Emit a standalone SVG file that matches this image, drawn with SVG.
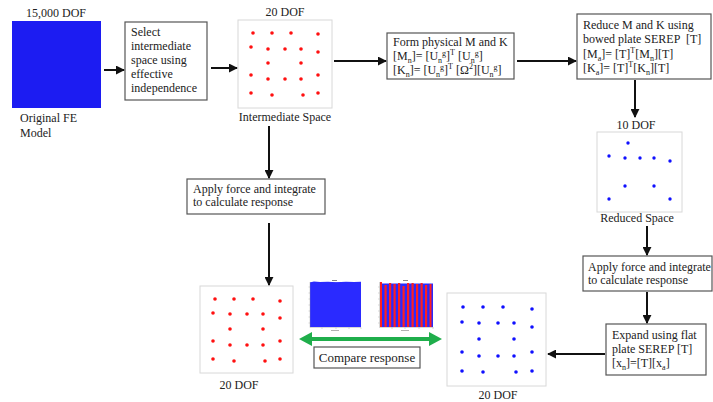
<svg xmlns="http://www.w3.org/2000/svg" width="713" height="402" viewBox="0 0 713 402">
<style>
text{font-family:"Liberation Serif","Times New Roman",serif;font-size:12px;fill:#222}
.box{fill:#fff;stroke:#555;stroke-width:1.2}
.panel{fill:#fff;stroke:#d8d8d8;stroke-width:1}
.conn{stroke:#111;stroke-width:2;fill:none;marker-end:url(#ah)}
.rd{fill:#ff1010}
.bd{fill:#1010ff}
.c{text-anchor:middle}
.s{font-size:8px}
.tick{stroke:#999;stroke-width:0.4;fill:none}
</style>
<defs>
<marker id="ah" viewBox="0 0 10 10" refX="9" refY="5" markerWidth="4.5" markerHeight="4.5" orient="auto">
<path d="M0,0 L10,5 L0,10 z" fill="#111"/>
</marker>
</defs>
<rect width="713" height="402" fill="#fff"/>

<g id="original-fe">
<text x="56" y="17" class="c">15,000 DOF</text>
<rect x="12" y="21" width="89" height="87" fill="#1c1cf2"/>
<text x="20" y="122">Original FE</text>
<text x="20" y="137">Model</text>
</g>

<g id="select-box">
<rect class="box" x="125" y="22" width="82" height="78"/>
<text x="131" y="36">Select</text>
<text x="131" y="50">intermediate</text>
<text x="131" y="64">space using</text>
<text x="131" y="78">effective</text>
<text x="131" y="92">independence</text>
</g>

<g id="intermediate-space">
<text x="285" y="16" class="c">20 DOF</text>
<rect class="panel" x="238" y="20" width="94" height="88"/>
<g class="rd">
<circle cx="253" cy="33" r="1.8"/><circle cx="272" cy="33" r="1.8"/><circle cx="291" cy="33" r="1.8"/><circle cx="318" cy="34" r="1.8"/>
<circle cx="251" cy="47" r="1.8"/><circle cx="268" cy="49" r="1.8"/><circle cx="285" cy="49" r="1.8"/><circle cx="301" cy="49" r="1.8"/><circle cx="318" cy="52" r="1.8"/>
<circle cx="268" cy="63" r="1.8"/><circle cx="301" cy="63" r="1.8"/>
<circle cx="251" cy="75" r="1.8"/><circle cx="268" cy="79" r="1.8"/><circle cx="285" cy="79" r="1.8"/><circle cx="301" cy="79" r="1.8"/><circle cx="318" cy="75" r="1.8"/>
<circle cx="251" cy="93" r="1.8"/><circle cx="272" cy="95" r="1.8"/><circle cx="303" cy="95" r="1.8"/><circle cx="318" cy="93" r="1.8"/>
</g>
<text x="285" y="121" class="c">Intermediate Space</text>
</g>

<g id="form-box">
<rect class="box" x="387" y="33" width="127" height="46"/>
<text x="393" y="46">Form physical M and K</text>
<text x="393" y="60">[M<tspan class="s" dy="3">n</tspan><tspan dy="-3">]= [U</tspan><tspan class="s" dy="3">n</tspan><tspan class="s" dy="-7">g</tspan><tspan dy="4">]</tspan><tspan class="s" dy="-5">T</tspan><tspan dy="5"> [U</tspan><tspan class="s" dy="3">n</tspan><tspan class="s" dy="-7">g</tspan><tspan dy="4">]</tspan></text>
<text x="393" y="74">[K<tspan class="s" dy="3">n</tspan><tspan dy="-3">]= [U</tspan><tspan class="s" dy="3">n</tspan><tspan class="s" dy="-7">g</tspan><tspan dy="4">]</tspan><tspan class="s" dy="-5">T</tspan><tspan dy="5"> [Ω</tspan><tspan class="s" dy="-5">2</tspan><tspan dy="5">][U</tspan><tspan class="s" dy="3">n</tspan><tspan class="s" dy="-7">g</tspan><tspan dy="4">]</tspan></text>
</g>

<g id="reduce-box">
<rect class="box" x="577" y="14" width="134" height="65"/>
<text x="583" y="29">Reduce M and K using</text>
<text x="583" y="43" xml:space="preserve">bowed plate SEREP  [T]</text>
<text x="583" y="58">[M<tspan class="s" dy="3">a</tspan><tspan dy="-3">]= [T]</tspan><tspan class="s" dy="-5">T</tspan><tspan dy="5">[M</tspan><tspan class="s" dy="3">n</tspan><tspan dy="-3">][T]</tspan></text>
<text x="583" y="72">[K<tspan class="s" dy="3">a</tspan><tspan dy="-3">]= [T]</tspan><tspan class="s" dy="-5">T</tspan><tspan dy="5">[K</tspan><tspan class="s" dy="3">n</tspan><tspan dy="-3">][T]</tspan></text>
</g>

<g id="reduced-space">
<rect class="panel" x="597" y="132" width="85" height="80"/>
<text x="636" y="129" class="c">10 DOF</text>
<g class="bd">
<circle cx="628" cy="143" r="1.7"/>
<circle cx="609" cy="156" r="1.7"/><circle cx="625" cy="158" r="1.7"/><circle cx="640" cy="158" r="1.7"/><circle cx="654" cy="158" r="1.7"/><circle cx="670" cy="161" r="1.7"/>
<circle cx="625" cy="186" r="1.7"/><circle cx="654" cy="186" r="1.7"/>
<circle cx="609" cy="199" r="1.7"/><circle cx="670" cy="199" r="1.7"/>
</g>
<text x="637" y="222" class="c">Reduced Space</text>
</g>

<g id="apply-right">
<rect class="box" x="583" y="256" width="129" height="35"/>
<text x="588" y="271">Apply force and integrate</text>
<text x="588" y="284">to calculate response</text>
</g>

<g id="expand-box">
<rect class="box" x="606" y="324" width="100" height="51"/>
<text x="612" y="339">Expand using flat</text>
<text x="612" y="353">plate SEREP [T]</text>
<text x="612" y="367">[x<tspan class="s" dy="3">n</tspan><tspan dy="-3">]=[T][x</tspan><tspan class="s" dy="3">a</tspan><tspan dy="-3">]</tspan></text>
</g>

<g id="expanded-space">
<rect class="panel" x="447" y="293" width="99" height="93"/>
<g class="bd">
<circle cx="463" cy="307" r="1.8"/><circle cx="483" cy="307" r="1.8"/><circle cx="503" cy="307" r="1.8"/><circle cx="532" cy="309" r="1.8"/>
<circle cx="462" cy="322" r="1.8"/><circle cx="479" cy="323" r="1.8"/><circle cx="498" cy="323" r="1.8"/><circle cx="514" cy="323" r="1.8"/><circle cx="532" cy="327" r="1.8"/>
<circle cx="479" cy="339" r="1.8"/><circle cx="514" cy="339" r="1.8"/>
<circle cx="462" cy="352" r="1.8"/><circle cx="479" cy="356" r="1.8"/><circle cx="498" cy="356" r="1.8"/><circle cx="514" cy="356" r="1.8"/><circle cx="532" cy="352" r="1.8"/>
<circle cx="462" cy="371" r="1.8"/><circle cx="483" cy="372" r="1.8"/><circle cx="516" cy="372" r="1.8"/><circle cx="532" cy="371" r="1.8"/>
</g>
<text x="498" y="399" class="c">20 DOF</text>
</g>

<g id="apply-left">
<rect class="box" x="187" y="179" width="138" height="35"/>
<text x="193" y="193">Apply force and integrate</text>
<text x="193" y="206">to calculate response</text>
</g>

<g id="full-space">
<rect class="panel" x="200" y="286" width="93" height="87"/>
<g class="rd">
<circle cx="215" cy="299" r="1.8"/><circle cx="234" cy="299" r="1.8"/><circle cx="253" cy="299" r="1.8"/><circle cx="280" cy="301" r="1.8"/>
<circle cx="213" cy="313" r="1.8"/><circle cx="230" cy="314" r="1.8"/><circle cx="247" cy="314" r="1.8"/><circle cx="263" cy="314" r="1.8"/><circle cx="280" cy="318" r="1.8"/>
<circle cx="230" cy="329" r="1.8"/><circle cx="263" cy="329" r="1.8"/>
<circle cx="213" cy="341" r="1.8"/><circle cx="230" cy="345" r="1.8"/><circle cx="247" cy="345" r="1.8"/><circle cx="263" cy="345" r="1.8"/><circle cx="280" cy="341" r="1.8"/>
<circle cx="213" cy="359" r="1.8"/><circle cx="234" cy="361" r="1.8"/><circle cx="265" cy="361" r="1.8"/><circle cx="280" cy="359" r="1.8"/>
</g>
<text x="239" y="389" class="c">20 DOF</text>
</g>

<g id="chart-full">
<rect x="310" y="282.5" width="51" height="44.5" fill="#2a2aff"/>
<path d="M310,283 l4,-0.8 l6,0.5 l8,-0.4 l8,0.6 l10,-0.5 l8,0.3 l7,-0.4" stroke="#2a2aff" stroke-width="1.2" fill="none"/>
<path class="tick" d="M310,282 v45.5 h51 M308.5,287 h1.5 M308.5,293 h1.5 M308.5,299 h1.5 M308.5,305 h1.5 M308.5,311 h1.5 M308.5,317 h1.5 M308.5,323 h1.5 M322,327.5 v1.5 M336,327.5 v1.5 M349,327.5 v1.5 M361,327.5 v1.5"/>
<rect x="332" y="280" width="5" height="1" fill="#888"/>
<rect x="331" y="330" width="8" height="0.9" fill="#aaa"/>
</g>

<g id="chart-compare">
<rect x="380" y="283.5" width="53" height="43.5" fill="#2a2aff"/>
<g fill="#ff2020">
<rect x="380" y="282" width="2" height="45"/>
<rect x="384.5" y="285" width="2.2" height="42"/>
<rect x="389" y="283" width="2.2" height="44"/>
<rect x="393.5" y="284" width="2.2" height="43"/>
<rect x="398" y="283" width="2.2" height="44"/>
<rect x="402.5" y="286" width="2.2" height="41"/>
<rect x="407" y="283" width="2.2" height="44"/>
<rect x="411.5" y="283" width="2.2" height="44"/>
<rect x="416" y="284" width="2.2" height="43"/>
<rect x="420.5" y="283" width="2.2" height="44"/>
<rect x="425" y="285" width="2.2" height="42"/>
<rect x="429.5" y="284" width="2" height="43"/>
</g>
<path class="tick" d="M379.5,282 v45.5 h54 M378,287 h1.5 M378,293 h1.5 M378,299 h1.5 M378,305 h1.5 M378,311 h1.5 M378,317 h1.5 M378,323 h1.5 M392,327.5 v1.5 M405,327.5 v1.5 M419,327.5 v1.5 M433,327.5 v1.5"/>
<rect x="403" y="280" width="5" height="1" fill="#888"/>
<rect x="401" y="330" width="8" height="0.9" fill="#aaa"/>
</g>

<g id="compare-box">
<rect class="box" x="314" y="347" width="106" height="21"/>
<text x="367" y="362" class="c" style="font-size:13px">Compare response</text>
</g>

<g id="connectors">
<line class="conn" x1="104" y1="70" x2="124" y2="70"/>
<line class="conn" x1="211" y1="68" x2="237" y2="68"/>
<line class="conn" x1="334" y1="61" x2="386" y2="61"/>
<line class="conn" x1="517" y1="61" x2="576" y2="61"/>
<line class="conn" x1="635" y1="80" x2="635" y2="117"/>
<line class="conn" x1="647" y1="226" x2="647" y2="255"/>
<line class="conn" x1="647" y1="292" x2="647" y2="323"/>
<line class="conn" x1="605" y1="354" x2="548" y2="354"/>
<line class="conn" x1="269" y1="126" x2="269" y2="178"/>
<line class="conn" x1="269" y1="223" x2="269" y2="285"/>
<polygon points="299,339 312,332 312,337 429,337 429,332 442,339 429,346 429,341 312,341 312,346" fill="#1fae4b"/>
</g>
</svg>
